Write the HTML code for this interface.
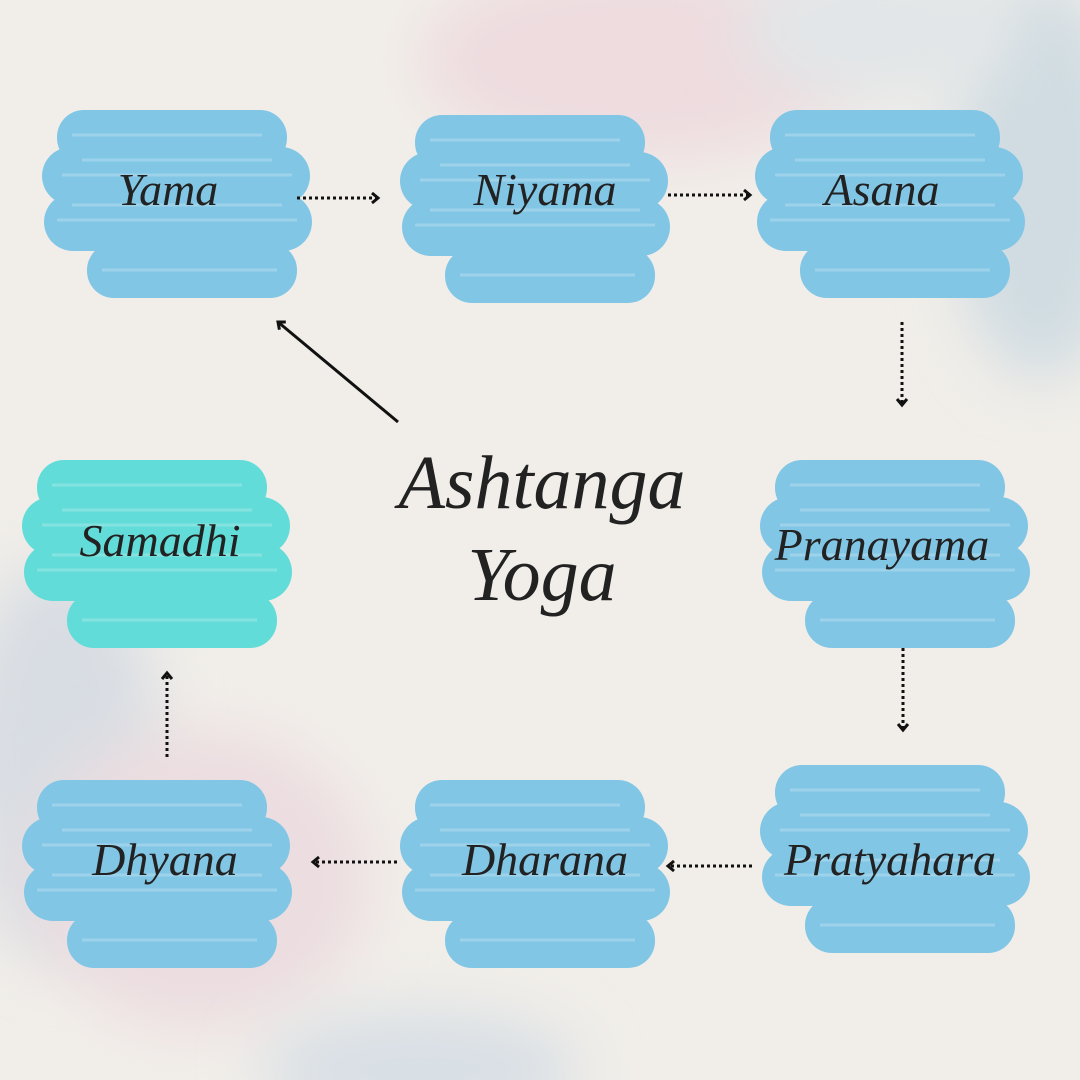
<!DOCTYPE html>
<html><head><meta charset="utf-8"><style>
body{margin:0;width:1080px;height:1080px;overflow:hidden;background:#f1eee9}
svg{display:block}
text{font-family:"Liberation Serif",serif;font-style:italic;fill:#222}
</style></head><body>
<svg width="1080" height="1080" viewBox="0 0 1080 1080">
<defs>
<filter id="bl" x="-50%" y="-50%" width="200%" height="200%"><feGaussianBlur stdDeviation="30"/></filter>
<g id="br">
<rect x="15" y="5" width="230" height="55" rx="27"/>
<rect x="0" y="42" width="268" height="58" rx="29"/>
<rect x="2" y="88" width="268" height="58" rx="29"/>
<rect x="45" y="138" width="210" height="55" rx="27"/>
<g stroke="#ffffff" stroke-opacity="0.22" stroke-width="3" fill="none">
<path d="M30 30 H220 M20 70 H250 M15 115 H255 M60 165 H235 M40 55 H230 M30 100 H240"/>
</g>
</g>
<marker id="ah" markerWidth="14" markerHeight="14" refX="9" refY="7" orient="auto" markerUnits="userSpaceOnUse">
<path d="M3 2 L9 7 L3 12" fill="none" stroke="#111" stroke-width="3"/>
</marker>
</defs>
<ellipse cx="640" cy="60" rx="220" ry="100" fill="#eedcdf" filter="url(#bl)"/>
<ellipse cx="1040" cy="180" rx="90" ry="200" fill="#d0dce2" filter="url(#bl)"/>
<ellipse cx="880" cy="30" rx="140" ry="70" fill="#e2e6e8" filter="url(#bl)"/>
<ellipse cx="60" cy="760" rx="100" ry="200" fill="#d8dde3" filter="url(#bl)"/>
<ellipse cx="200" cy="880" rx="170" ry="150" fill="#ecdde0" filter="url(#bl)"/>
<ellipse cx="420" cy="1070" rx="160" ry="60" fill="#d8dfe5" filter="url(#bl)"/>

<g fill="#82c6e6">
<use href="#br" transform="translate(42,105)"/>
<use href="#br" transform="translate(400,110)"/>
<use href="#br" transform="translate(755,105)"/>
<use href="#br" transform="translate(760,455)"/>
<use href="#br" transform="translate(22,775)"/>
<use href="#br" transform="translate(400,775)"/>
<use href="#br" transform="translate(760,760)"/>
</g>
<g fill="#62dcd8"><use href="#br" transform="translate(22,455)"/></g>

<g font-size="46" text-anchor="middle">
<text x="168" y="205">Yama</text>
<text x="545" y="205">Niyama</text>
<text x="882" y="205">Asana</text>
<text x="882" y="560">Pranayama</text>
<text x="160" y="556">Samadhi</text>
<text x="165" y="875">Dhyana</text>
<text x="545" y="875">Dharana</text>
<text x="890" y="875">Pratyahara</text>
</g>
<g font-size="76" text-anchor="middle">
<text x="542" y="508">Ashtanga</text>
<text x="542" y="600">Yoga</text>
</g>

<g stroke="#111" stroke-width="3" stroke-dasharray="3 3" fill="none" marker-end="url(#ah)">
<path d="M297 198 H378"/>
<path d="M668 195 H750"/>
<path d="M902 322 V405"/>
<path d="M903 648 V730"/>
<path d="M752 866 H668"/>
<path d="M397 862 H313"/>
<path d="M167 757 V673"/>
</g>
<path d="M398 422 L278 322" stroke="#111" stroke-width="3" fill="none" marker-end="url(#ah)"/>
</svg>
</body></html>
